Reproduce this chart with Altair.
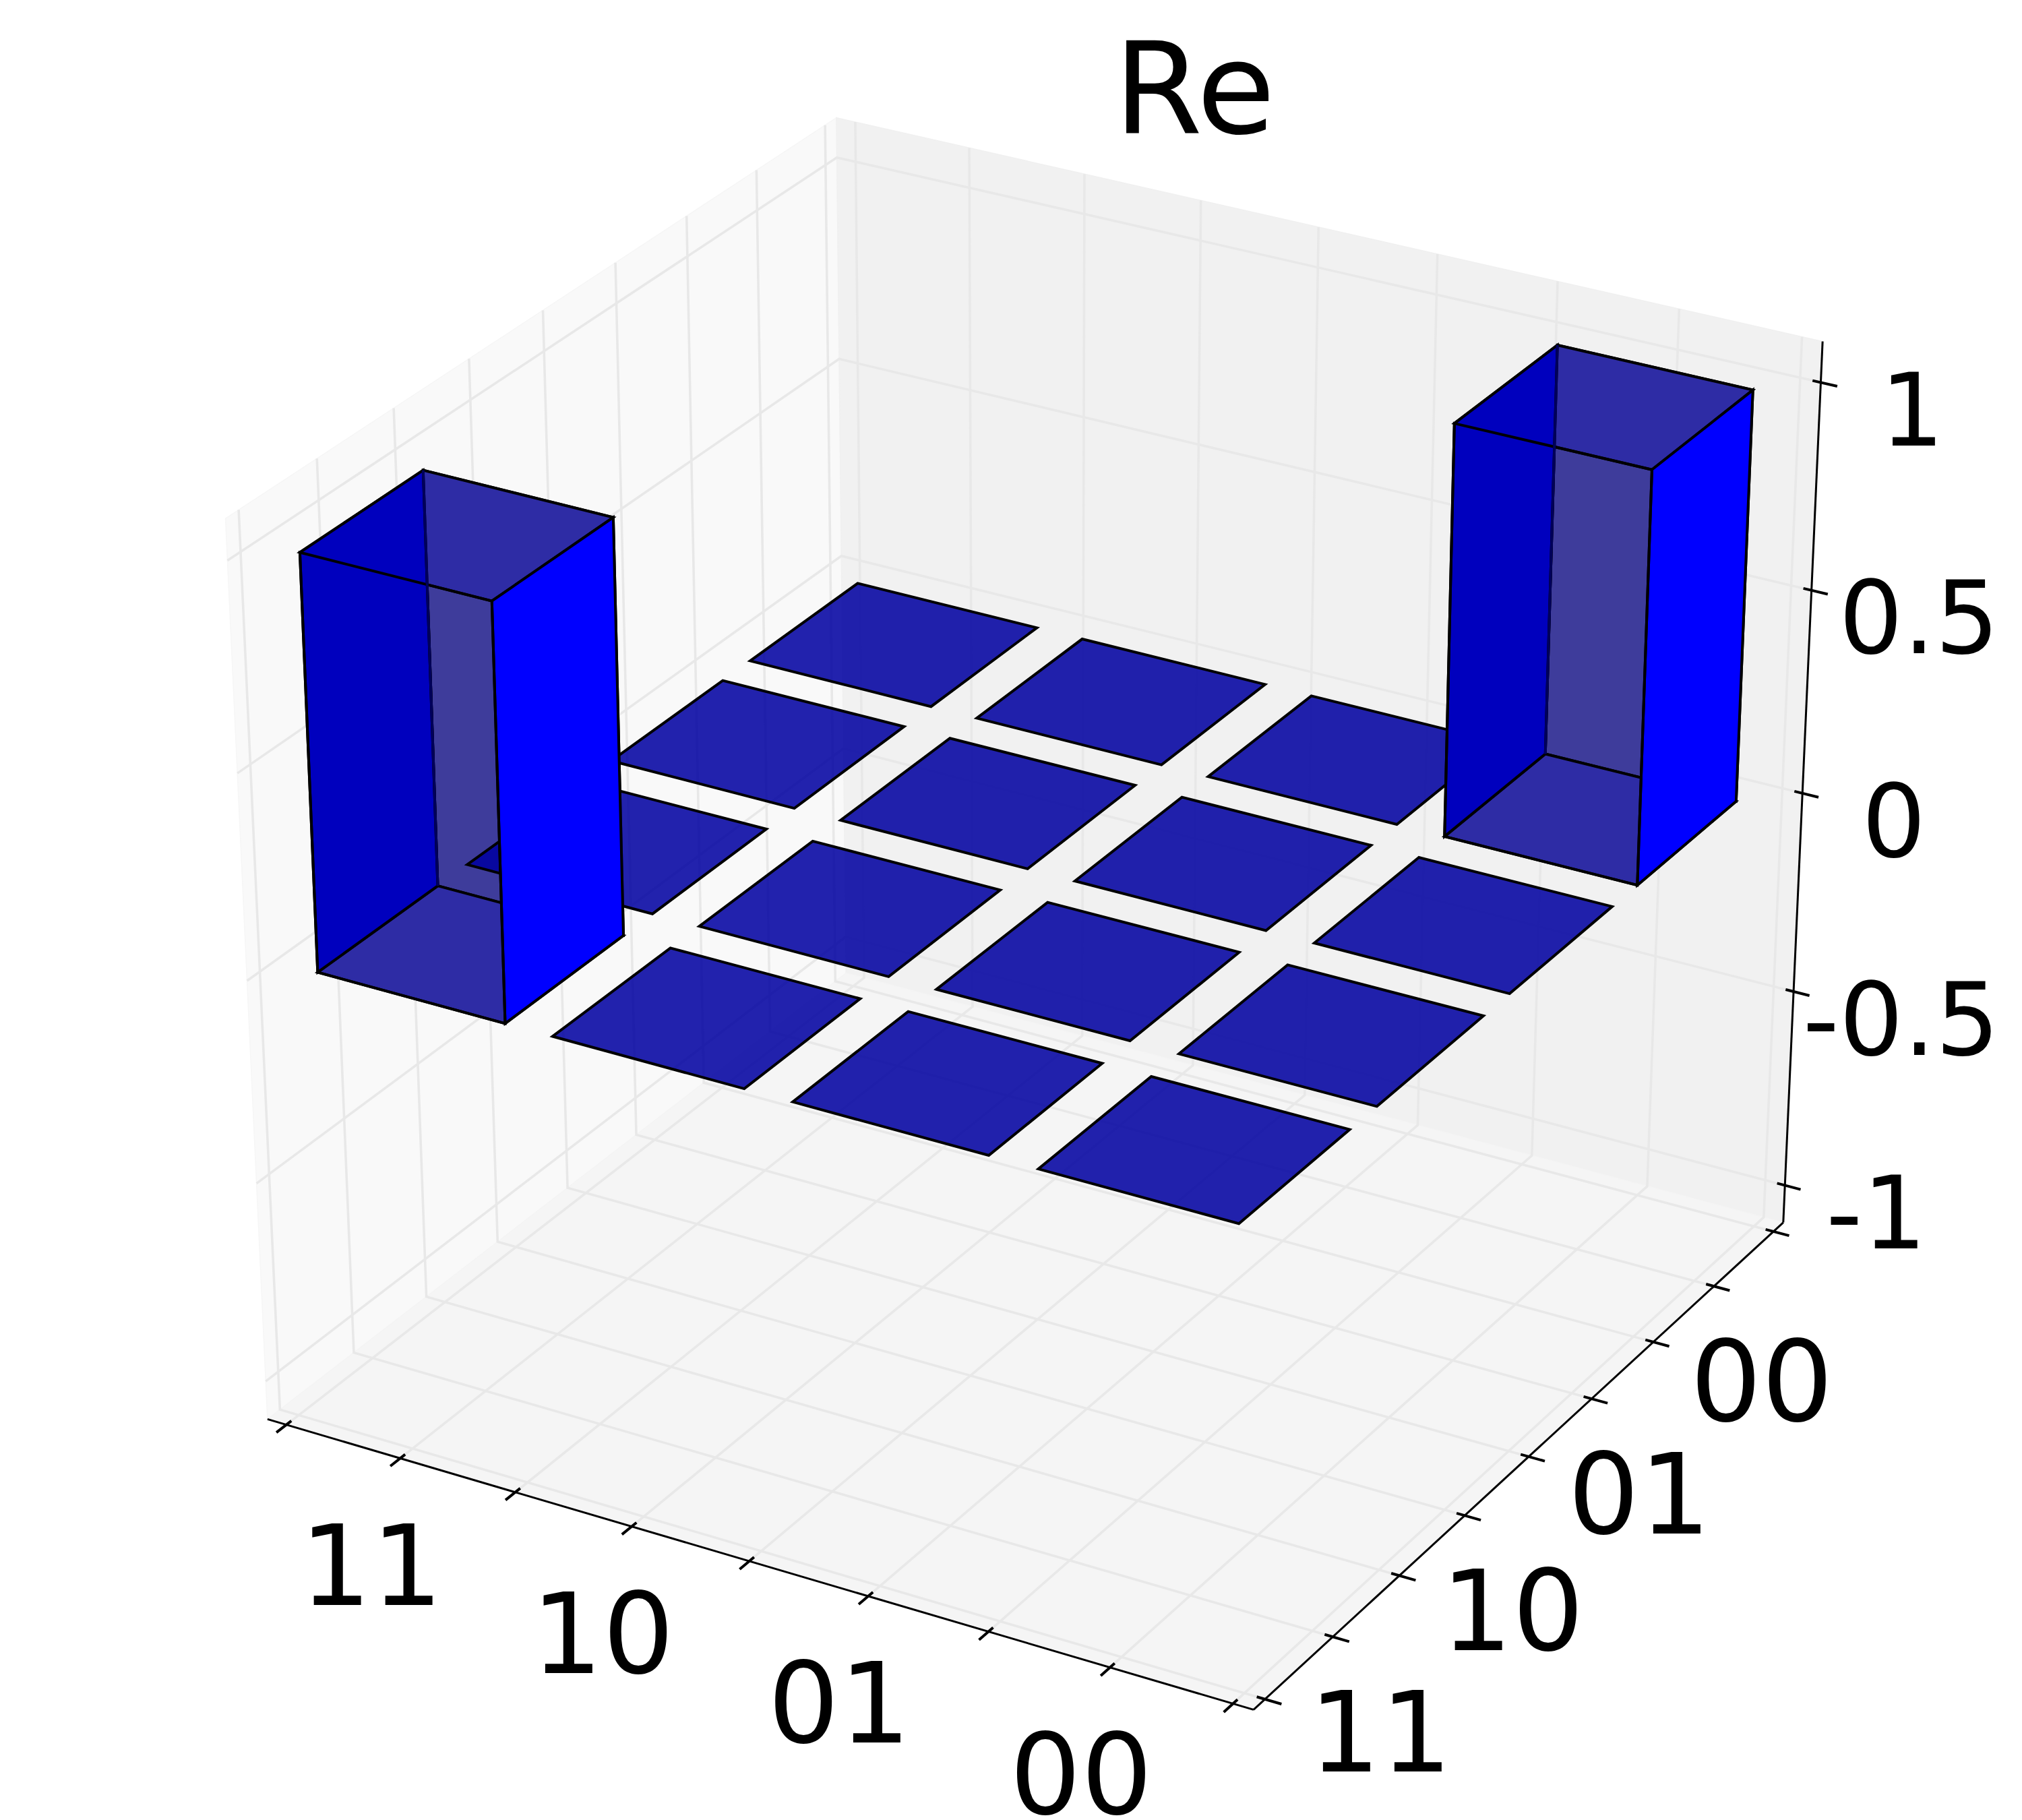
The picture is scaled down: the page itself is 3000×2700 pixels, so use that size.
import math
import altair as alt
import pandas as pd

# ---- chart values -------------------------------------------------------
title_text = "Re"
state_labels = ["11", "10", "01", "00"]
matrix = [
    [1, 0, 0, 0],
    [0, 0, 0, 0],
    [0, 0, 0, 0],
    [0, 0, 0, 1],
]
x_ticks = [-0.5, 0, 0.5, 1, 1.5, 2, 2.5, 3, 3.5]
y_ticks = [-0.5, 0, 0.5, 1, 1.5, 2, 2.5, 3, 3.5]
z_ticks = [-1, -0.5, 0, 0.5, 1]
z_tick_labels = ["-1", "-0.5", "0", "0.5", "1"]
bar_size = 0.8

# ---- 3D camera (view of a unit cube, as a perspective projection) --------
X_LIM, Y_LIM, Z_LIM = (-0.5, 3.5), (-0.5, 3.5), (-1.05, 1.05)
ELEV, AZIM, DIST = math.radians(30), math.radians(-60), 10.0
FIG_W, FIG_H = 3000, 2700
V_SPAN = 0.185 / 1.0025
V_CX, V_CY = 0.095 * FIG_W / 0.185 + 3, FIG_H - 0.095 * FIG_H / 0.185

n = (math.cos(ELEV) * math.cos(AZIM), math.cos(ELEV) * math.sin(AZIM), math.sin(ELEV))
ul = math.hypot(n[0], n[1])
u = (-n[1] / ul, n[0] / ul, 0.0)
v = (n[1] * u[2] - n[2] * u[1], n[2] * u[0] - n[0] * u[2], n[0] * u[1] - n[1] * u[0])


def project(x, y, z):
    w = ((x - X_LIM[0]) / (X_LIM[1] - X_LIM[0]) - 0.5,
         (y - Y_LIM[0]) / (Y_LIM[1] - Y_LIM[0]) - 0.5,
         (z - Z_LIM[0]) / (Z_LIM[1] - Z_LIM[0]) - 0.5)
    dot = lambda a: a[0] * w[0] + a[1] * w[1] + a[2] * w[2]
    depth = DIST - dot(n)
    sx, sy = dot(u) / depth, dot(v) / depth
    return V_CX + sx / V_SPAN * FIG_W, V_CY - sy / V_SPAN * FIG_H


def ext(lim, k=0.25):
    d = (lim[1] - lim[0]) / 12
    return lim[0] - d * k, lim[1] + d * k, d


x0, x1, dx = ext(X_LIM)
y0, y1, dy = ext(Y_LIM)
z0, z1, dz = ext(Z_LIM, 0.27)


def add(rows, pts, fill="none", stroke="black", sw=4.0, fo=1.0):
    pid = len(rows)
    for k, p in enumerate(pts):
        px, py = project(*p)
        rows.append(dict(pid=pid, seq=k, x=px, y=py, fill=fill,
                         stroke=stroke, sw=sw, fo=fo))


# ---- panes --------------------------------------------------------------
pane_rows = []
add(pane_rows, [(x0, y0, z0), (x0, y1, z0), (x0, y1, z1), (x0, y0, z1)], "#f9f9f9", "#f6f6f6", 1.5)
add(pane_rows, [(x0, y1, z0), (x1, y1, z0), (x1, y1, z1), (x0, y1, z1)], "#f1f1f1", "#f0f0f0", 1.5)
add(pane_rows, [(x0, y0, z0), (x1, y0, z0), (x1, y1, z0), (x0, y1, z0)], "#f5f5f5", "#f4f4f4", 1.5)

# ---- grid ---------------------------------------------------------------
grid_rows = []
GRID = "#e8e8e8"
for t in x_ticks:
    add(grid_rows, [(t, y0, z0), (t, y1, z0), (t, y1, z1)], stroke=GRID, sw=3.6)
for t in y_ticks:
    add(grid_rows, [(x1, t, z0), (x0, t, z0), (x0, t, z1)], stroke=GRID, sw=3.6)
for t in z_ticks:
    add(grid_rows, [(x1, y1, t), (x0, y1, t), (x0, y0, t)], stroke=GRID, sw=3.6)

# ---- axis lines and ticks -----------------------------------------------
axis_rows = []
add(axis_rows, [(x0, y0, z0), (x1, y0, z0)], sw=3)
add(axis_rows, [(x1, y0, z0), (x1, y1, z0)], sw=3)
add(axis_rows, [(x1, y1, z0), (x1, y1, z1)], sw=3)
for t in x_ticks:
    add(axis_rows, [(t, y0 + 0.1 * dy, z0), (t, y0 - 0.2 * dy, z0)], sw=4)
for t in y_ticks:
    add(axis_rows, [(x1 - 0.1 * dx, t, z0), (x1 + 0.2 * dx, t, z0)], sw=4)
for t in z_ticks:
    add(axis_rows, [(x1 - 0.1 * dx, y1, t), (x1 + 0.2 * dx, y1, t)], sw=4)

# ---- bars ---------------------------------------------------------------
TILE = "#0000a0"
FACE_BACK = "#3e3c9b"
FACE_CAP = "#2e2ca5"
FACE_DARK = "#0000be"
FACE_BRIGHT = "#0000ff"
bar_rows = []
top_rows = []
cells = [(i, j, matrix[i][j]) for j in reversed(range(4)) for i in range(4)]
tall = [c for c in cells if c[2] != 0]
flat = [c for c in cells if c[2] == 0]


def corners(i, j, h):
    xa, xb = i - bar_size / 2, i + bar_size / 2
    ya, yb = j - bar_size / 2, j + bar_size / 2
    return xa, xb, ya, yb, h


for i, j, h in tall:
    xa, xb, ya, yb, h = corners(i, j, h)
    add(bar_rows, [(xa, yb, 0), (xb, yb, 0), (xb, yb, h), (xa, yb, h)], FACE_BACK)
    add(bar_rows, [(xa, ya, 0), (xb, ya, 0), (xb, yb, 0), (xa, yb, 0)], FACE_CAP)
    add(bar_rows, [(xa, ya, h), (xb, ya, h), (xb, yb, h), (xa, yb, h)], FACE_CAP)
for i, j, h in flat:
    xa, xb, ya, yb, h = corners(i, j, h)
    add(bar_rows, [(xa, ya, h), (xb, ya, h), (xb, yb, h), (xa, yb, h)], TILE, fo=0.865)
for i, j, h in tall:
    xa, xb, ya, yb, h = corners(i, j, h)
    add(bar_rows, [(xa, ya, 0), (xa, yb, 0), (xa, yb, h), (xa, ya, h)], FACE_DARK)
    add(bar_rows, [(xb, ya, 0), (xb, yb, 0), (xb, yb, h), (xb, ya, h)], FACE_BRIGHT)
    add(top_rows, [(xa, ya, h), (xb, ya, h), (xb, ya, 0), (xa, ya, 0)], "none", "black")

edge_rows = []
for i, j, h in tall:
    xa, xb, ya, yb, h = corners(i, j, h)
    add(edge_rows, [(xa, yb, 0), (xa, yb, h)], stroke="#00005a", sw=4)

# ---- text ---------------------------------------------------------------
text_rows = []
for t, lab in zip(x_ticks[1::2], state_labels):
    px, py = project(t, y0, z0)
    text_rows.append(dict(x=px - 43, y=py + 168, t=lab, size=167))
for t, lab in zip(y_ticks[1::2], state_labels):
    px, py = project(x1, t, z0)
    text_rows.append(dict(x=px + 71, y=py + 150, t=lab, size=167))
for t, lab in zip(z_ticks, z_tick_labels):
    px, py = project(x1, y1, t)
    text_rows.append(dict(x=px + (160 if len(lab) > 2 else 136), y=py + 49, t=lab, size=150))
text_rows.append(dict(x=1777, y=137, t=title_text, size=190))

xs = alt.Scale(domain=[8, FIG_W], range=[0, FIG_W - 8], clamp=False)
ys = alt.Scale(domain=[FIG_H, 8], range=[FIG_H - 8, 0], clamp=False)
X = alt.X("x:Q", scale=xs, axis=None)
Y = alt.Y("y:Q", scale=ys, axis=None)


def poly_layer(rows, closed):
    mark = alt.Chart(pd.DataFrame(rows)).mark_line(
        interpolate="linear-closed" if closed else "linear",
        strokeJoin="miter", strokeCap="butt", clip=False, point=False)
    enc = dict(x=X, y=Y, detail="pid:N", order=alt.Order("seq:Q"),
               stroke=alt.Stroke("stroke:N", scale=None),
               strokeWidth=alt.StrokeWidth("sw:Q", scale=None))
    if closed:
        enc["fill"] = alt.Fill("fill:N", scale=None)
        enc["fillOpacity"] = alt.FillOpacity("fo:Q", scale=None)
    return mark.encode(**enc)


text_layer = alt.Chart(pd.DataFrame(text_rows)).mark_text(
    font="DejaVu Sans", align="center", baseline="middle", color="black"
).encode(x=X, y=Y, text="t:N", size=alt.Size("size:Q", scale=None))

chart = alt.layer(
    poly_layer(pane_rows, True),
    poly_layer(grid_rows, False),
    poly_layer(axis_rows, False),
    poly_layer(bar_rows, True),
    poly_layer(top_rows, True),
    poly_layer(edge_rows, False),
    text_layer,
).properties(width=FIG_W - 8, height=FIG_H - 8, padding=0).configure_view(stroke=None)

chart.save("out.html", embed_options={"renderer": "svg", "actions": False})
